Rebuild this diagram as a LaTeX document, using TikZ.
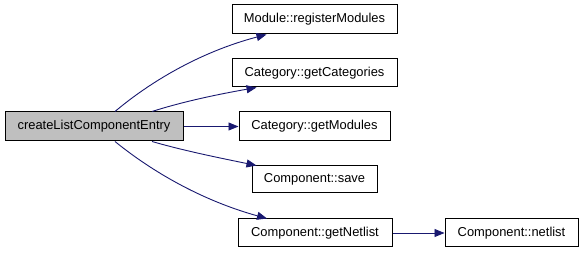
\documentclass[tikz,border=0pt]{standalone}
\usepackage{fontspec}
\setmainfont{Liberation Sans}
\usetikzlibrary{arrows.meta}
\definecolor{edgeblue}{HTML}{191970}
\definecolor{rootgrey}{HTML}{BFBFBF}
\tikzset{
  fn/.style={draw=black, line width=1pt, fill=white, inner sep=0pt,
    font=\fontsize{12.9}{15}\selectfont, text=black},
  rootfn/.style={fn, fill=rootgrey},
  call/.style={draw=edgeblue, line width=0.9pt,
    -{Triangle[length=10pt,width=8pt]}}
}
\begin{document}
\begin{tikzpicture}[x=1pt,y=-1pt]
  \useasboundingbox (0,0) rectangle (584,253);

  \node[rootfn, minimum width=178pt, minimum height=29pt] (root) at (94,126.5) {createListComponentEntry};
  \node[fn, minimum width=165pt, minimum height=29pt] (reg) at (314.5,19.5) {Module::registerModules};
  \node[fn, minimum width=165pt, minimum height=28pt] (cats) at (314.5,73) {Category::getCategories};
  \node[fn, minimum width=151pt, minimum height=29pt] (mods) at (314.5,126.5) {Category::getModules};
  \node[fn, minimum width=125pt, minimum height=27pt] (save) at (314.5,179.5) {Component::save};
  \node[fn, minimum width=154pt, minimum height=28pt] (getn) at (315,233) {Component::getNetlist};
  \node[fn, minimum width=133pt, minimum height=28pt] (netl) at (511.5,233) {Component::netlist};

  \coordinate (rootTL) at ([xshift=21pt]root.north);
  \coordinate (rootTR) at ([xshift=58pt]root.north);
  \coordinate (rootBL) at ([xshift=21pt]root.south);
  \coordinate (rootBR) at ([xshift=58pt]root.south);

  \draw[call] (rootTL) .. controls (150,82) and (200,52) .. ([xshift=-48pt]reg.south);
  \draw[call] (rootTR) .. controls (185,101) and (220,94) .. ([xshift=-58pt]cats.south);
  \draw[call] (root.east) -- (mods.west);
  \draw[call] (rootBR) .. controls (185,151) and (220,158) .. ([xshift=-58pt]save.north);
  \draw[call] (rootBL) .. controls (150,170) and (200,200) .. ([xshift=-48pt]getn.north);
  \draw[call] (getn.east) -- (netl.west);
\end{tikzpicture}
\end{document}
